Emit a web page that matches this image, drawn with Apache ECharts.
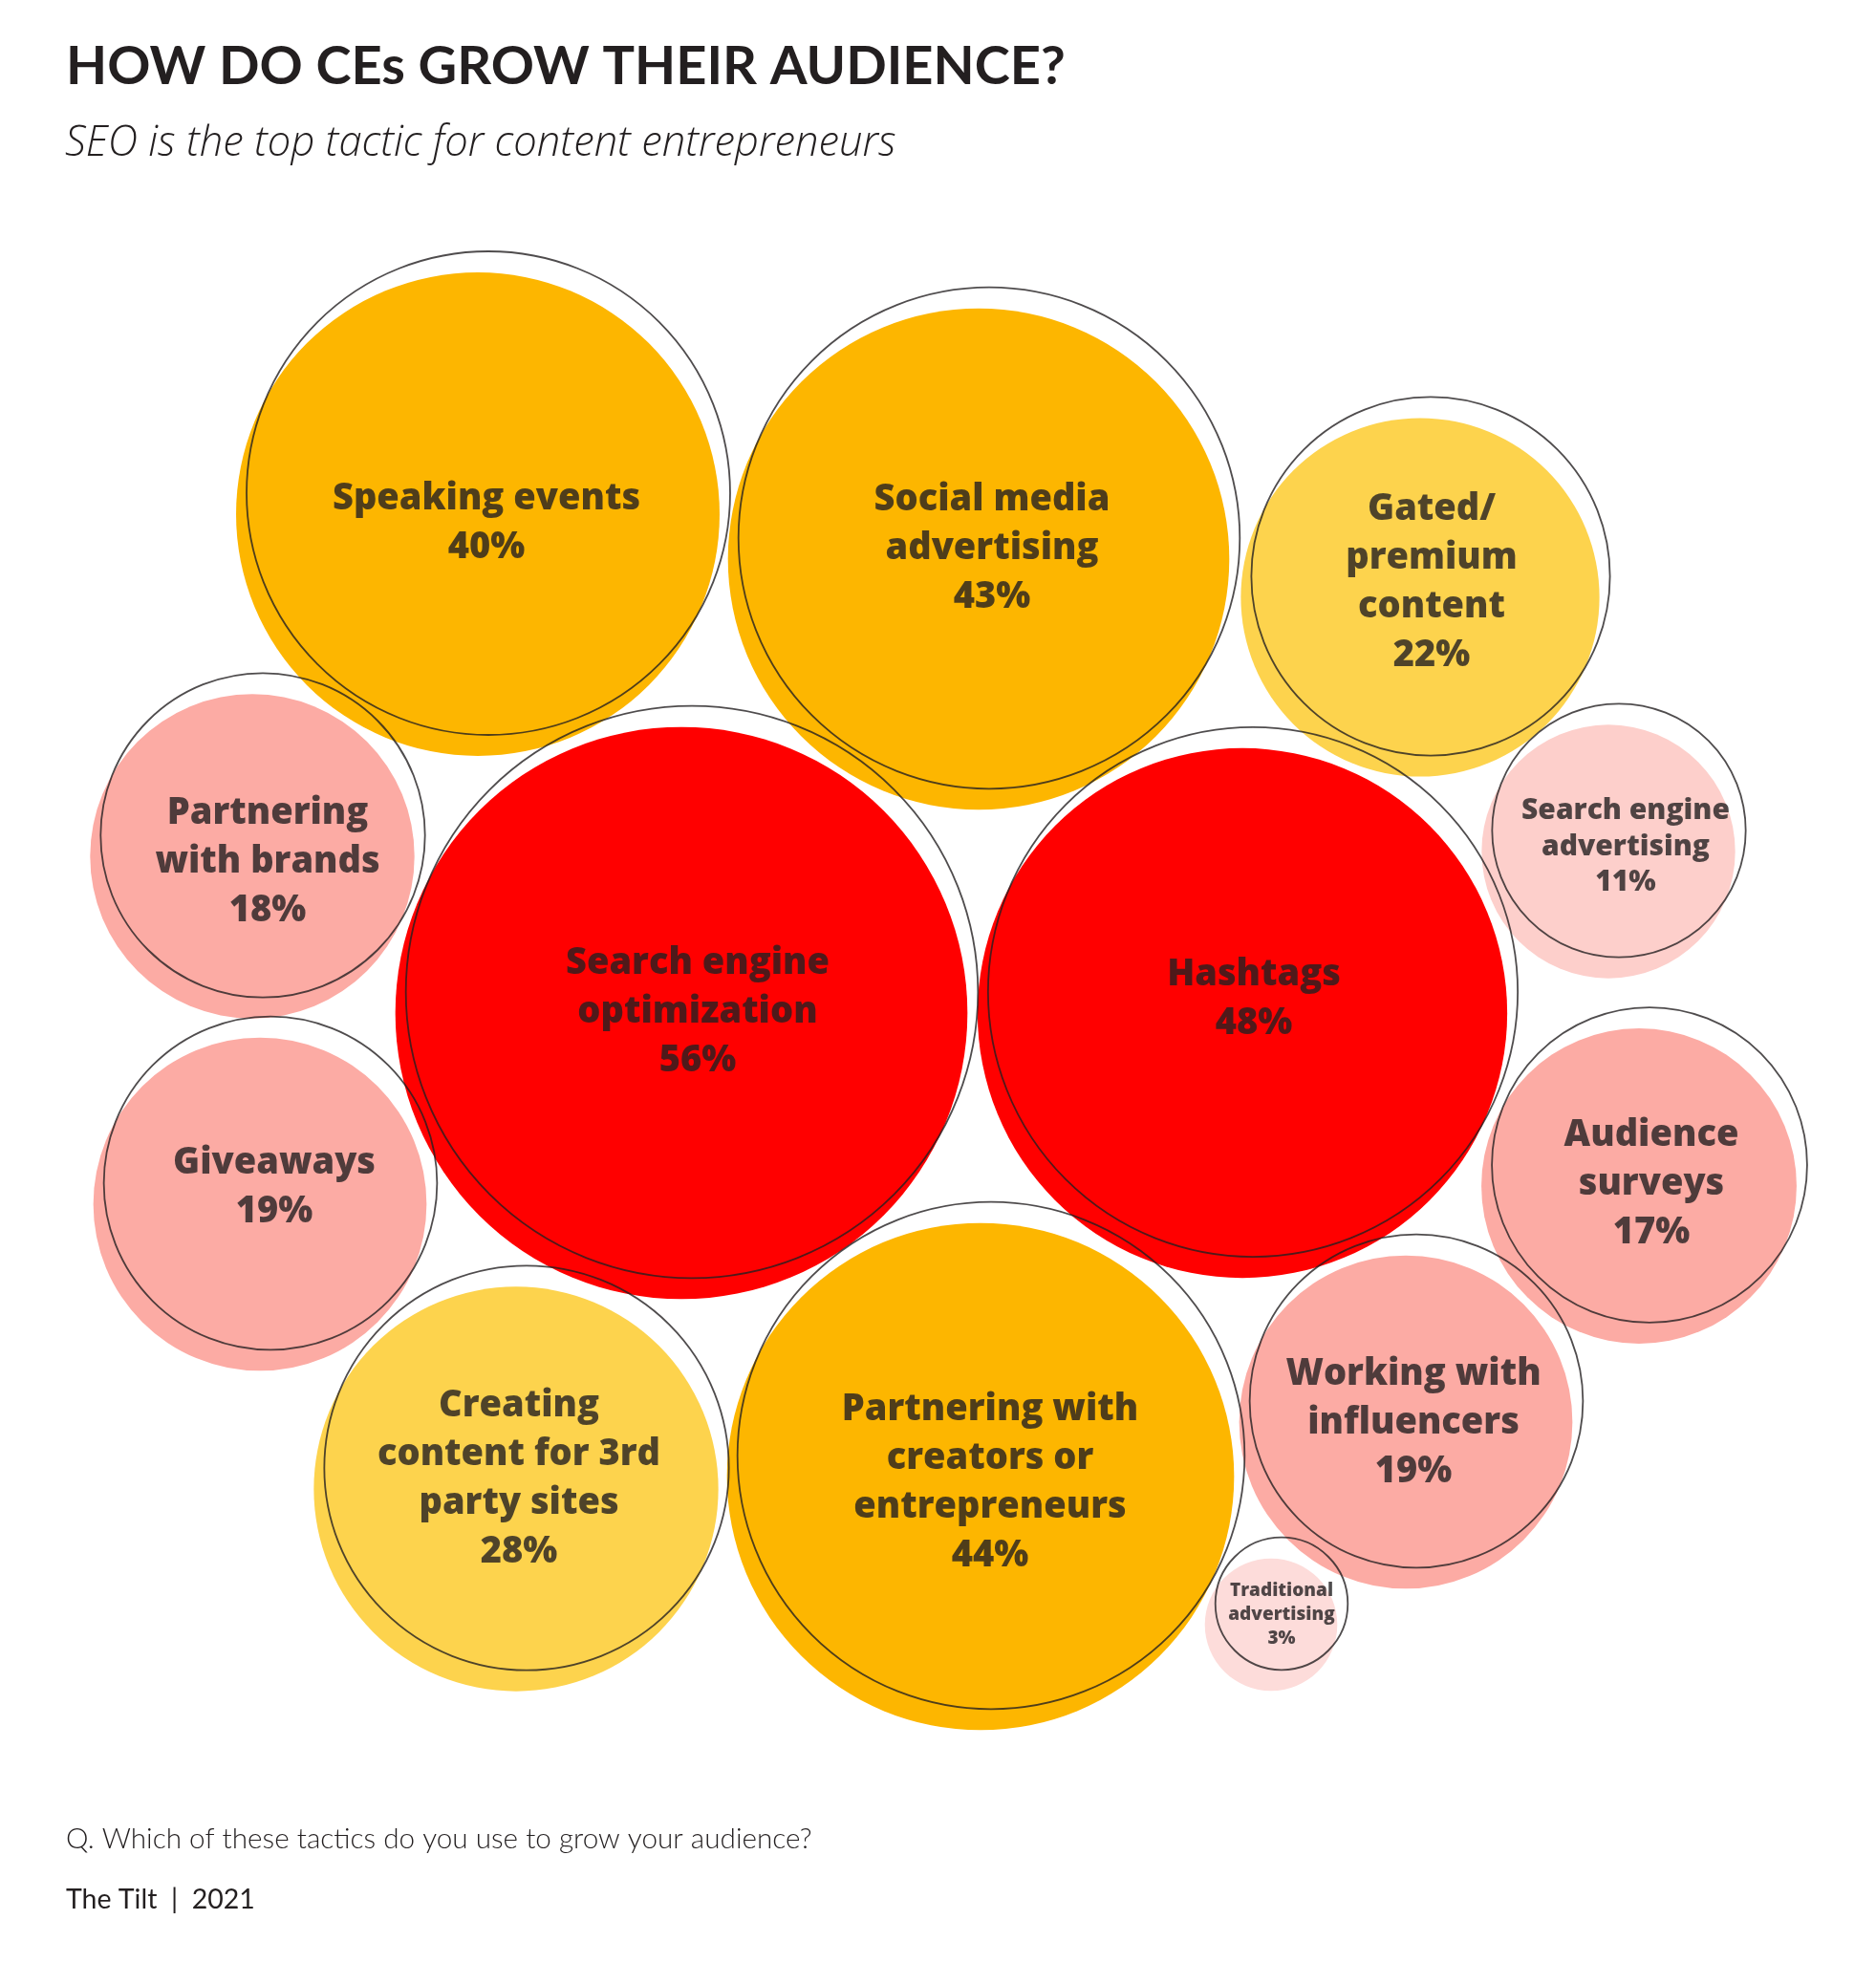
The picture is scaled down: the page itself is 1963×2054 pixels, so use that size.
<!DOCTYPE html>
<html>
<head>
<meta charset="utf-8">
<script src="https://cdn.jsdelivr.net/npm/echarts@6/dist/echarts.min.js"></script>
<style>
  html, body { margin: 0; padding: 0; background: #ffffff; }
  #chart { width: 1963px; height: 2054px; }
</style>
</head>
<body>
<div id="chart"></div>
<script>
// ---- data ----
var categories = [
  'Speaking events',
  'Social media\nadvertising',
  'Gated/\npremium\ncontent',
  'Partnering\nwith brands',
  'Search engine\noptimization',
  'Hashtags',
  'Search engine\nadvertising',
  'Giveaways',
  'Audience\nsurveys',
  'Creating\ncontent for 3rd\nparty sites',
  'Partnering with\ncreators or\nentrepreneurs',
  'Working with\ninfluencers',
  'Traditional\nadvertising'
];
var shares = [40, 43, 22, 18, 56, 48, 11, 19, 17, 28, 44, 19, 3];

var titleText = 'HOW DO CEs GROW THEIR AUDIENCE?';
var subtitleText = 'SEO is the top tactic for content entrepreneurs';
var questionText = 'Q. Which of these tactics do you use to grow your audience?';
var sourceText = 'The Tilt  |  2021';

// ---- layout (packing positions of bubble centres, pixel space) ----
var centerX = [511, 1035, 1497, 275, 724, 1311, 1694, 283, 1726, 551, 1037, 1482, 1341];
var centerY = [516, 563, 603, 874, 1038, 1038, 869, 1238, 1219, 1536, 1523, 1466, 1678];
var labelDX = [-2, 3, 1, 5, 6, 1, 7, 4, 2, -8, -1, -3, 0];
var labelDY = [32, 11, 7, 28, 21, 8, 17, 5, 20, 12, 29, 23, 12];

// ---- styles ----
var INK = '#231f20';
var LABEL_FONT = '"Open Sans", "Noto Sans", sans-serif';
var TITLE_FONT = 'Lato, "Noto Sans", sans-serif';
var RADIUS_K = 40; // radius = K * sqrt(share)

function sizeOf(v) { return 2 * RADIUS_K * Math.sqrt(v); }
function fontOf(v) { return v < 5 ? 19 : (v < 15 ? 30 : 38); }
function lineOf(v) { return v < 5 ? 25 : (v < 15 ? 37.5 : 51); }

var pts = shares.map(function (v, i) {
  return { name: categories[i], value: [centerX[i], centerY[i], v] };
});
var outlinePts = shares.map(function (v, i) {
  return {
    name: categories[i],
    value: [centerX[i], centerY[i], v],
    label: { fontSize: fontOf(v), lineHeight: lineOf(v) }
  };
});

var chart = echarts.init(document.getElementById('chart'), null, { renderer: 'canvas' });
chart.setOption({
  animation: false,
  backgroundColor: '#ffffff',
  grid: { left: 0, right: 0, top: 0, bottom: 0 },
  xAxis: { type: 'value', min: 0, max: 1963, show: false },
  yAxis: { type: 'value', min: 0, max: 2054, inverse: true, show: false },
  visualMap: {
    show: false,
    type: 'piecewise',
    seriesIndex: 0,
    dimension: 2,
    pieces: [
      { gte: 45, color: '#ff0000' },
      { gte: 40, lt: 45, color: '#fdb600' },
      { gte: 20, lt: 40, color: '#fdd34d' },
      { gte: 15, lt: 20, color: '#fcaba4' },
      { gte: 5, lt: 15, color: '#fdcfcb' },
      { lt: 5, color: '#fddcda' }
    ]
  },
  graphic: [
    { type: 'text', left: 69, top: 42, style: { text: titleText, fontSize: 56, fontWeight: 'bold', fontFamily: TITLE_FONT, fill: INK } },
    { type: 'text', left: 68, top: 129, style: { text: subtitleText, fontSize: 43.5, fontStyle: 'italic', fontWeight: 300, fontFamily: LABEL_FONT, fill: INK } },
    { type: 'text', left: 69, top: 1909, style: { text: questionText, fontSize: 29.7, fontWeight: 300, fontFamily: TITLE_FONT, fill: INK } },
    { type: 'text', left: 69, top: 1973, style: { text: sourceText, fontSize: 28.5, fontWeight: 'normal', fontFamily: TITLE_FONT, fill: INK } }
  ],
  series: [
    {
      type: 'scatter',
      symbol: 'circle',
      data: pts,
      symbolSize: function (val) { return sizeOf(val[2]); },
      symbolOffset: [-11, 22],
      itemStyle: { opacity: 1 },
      emphasis: { disabled: true },
      silent: true,
      z: 1
    },
    {
      type: 'scatter',
      symbol: 'circle',
      data: outlinePts,
      symbolSize: function (val) { return sizeOf(val[2]); },
      itemStyle: { color: 'rgba(0,0,0,0)', borderColor: '#231f20', borderWidth: 1.8 },
      label: {
        show: true,
        position: 'inside',
        color: INK,
        fontFamily: LABEL_FONT,
        fontWeight: 800,
        align: 'center',
        verticalAlign: 'middle',
        formatter: function (p) { return p.name + '\n' + p.value[2] + '%'; }
      },
      labelLayout: function (params) {
        return { dx: labelDX[params.dataIndex], dy: labelDY[params.dataIndex], hideOverlap: false };
      },
      emphasis: { disabled: true },
      silent: true,
      z: 2
    }
  ]
});
</script>
</body>
</html>
